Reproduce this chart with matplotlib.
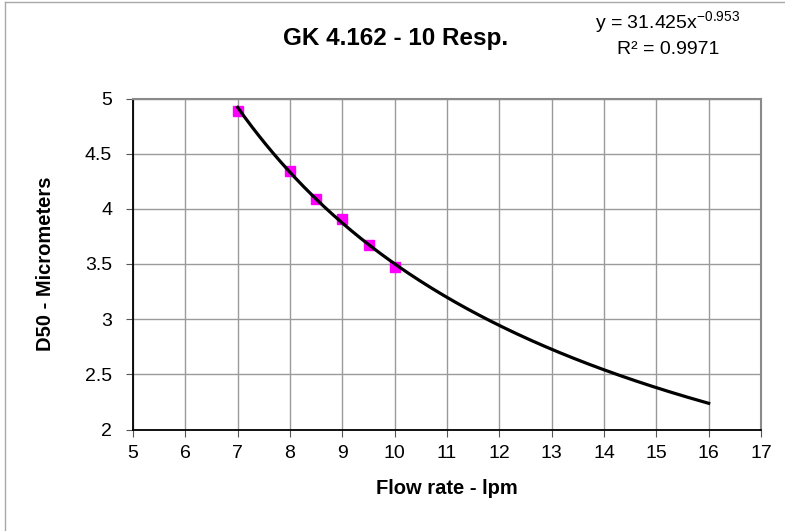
import matplotlib.pyplot as plt
from matplotlib.lines import Line2D
import numpy as np

plt.rcParams["font.family"] = ["Liberation Sans", "DejaVu Sans"]

# measured points
flow = [7, 8, 8.5, 9, 9.5, 10]
d50 = [4.89, 4.34, 4.09, 3.91, 3.67, 3.47]

# power trendline y = a * x^b, as printed on the chart
coef_a = 31.425
coef_b = -0.953
fit_start, fit_stop = 7, 16

x_ticks = list(range(5, 18))
y_ticks = [2, 2.5, 3, 3.5, 4, 4.5, 5]
y_tick_labels = ["2", "2.5", "3", "3.5", "4", "4.5", "5"]

fig = plt.figure(figsize=(7.85, 5.31), dpi=100)
fig.patch.set_facecolor("white")

# chart-area frame (left and top edges visible in the crop)
frame_c = "#a8a8a8"
fig.lines.append(Line2D([5 / 785, 5 / 785], [0, 1 - 1.5 / 531], transform=fig.transFigure,
                        color=frame_c, lw=1))
fig.lines.append(Line2D([5 / 785, 1], [1 - 1.5 / 531, 1 - 1.5 / 531], transform=fig.transFigure,
                        color=frame_c, lw=1))

ax = fig.add_axes([133 / 785, 1 - 429.5 / 531, 628 / 785, 331 / 531])

xs = np.linspace(fit_start, fit_stop, 200)
ax.plot(xs, coef_a * xs ** coef_b, color="black", lw=2.3, zorder=3)
ax.plot(flow, d50, ls="", marker="s", ms=7, color="#ff00ff", mec="#ff00ff", zorder=2)

ax.set_xlim(5, 17)
ax.set_ylim(2, 5)
ax.set_xticks(x_ticks)
ax.set_yticks(y_ticks)
ax.set_yticklabels(y_tick_labels)
ax.grid(True, color="#9a9a9a", lw=1)
ax.set_axisbelow(True)

for side in ["top", "right"]:
    ax.spines[side].set_color("#8a8a8a")
    ax.spines[side].set_linewidth(1.5)
for side in ["left", "bottom"]:
    ax.spines[side].set_color("black")
    ax.spines[side].set_linewidth(1.3)

ax.tick_params(axis="both", labelsize=14, direction="out", length=5, color="#555555")
ax.tick_params(axis="x", pad=6)
ax.tick_params(axis="y", pad=10)

ax.set_xlabel("Flow rate - lpm", fontsize=14.5, fontweight="bold")
ax.xaxis.set_label_coords(0.5, -0.15)
ax.set_ylabel("D50 - Micrometers", fontsize=14.5, fontweight="bold", va="center")
ax.yaxis.set_label_coords(-0.14, 0.5)

fig.text(396 / 785, 1 - 45 / 531, "GK 4.162 - 10 Resp.", fontsize=17.5, fontweight="bold",
         ha="center", va="baseline")
fig.text(668 / 785, 1 - 29 / 531, r"y = 31.425x$^{\mathregular{-0.953}}$", fontsize=14,
         ha="center", va="baseline")
fig.text(668 / 785, 1 - 54 / 531, "R² = 0.9971", fontsize=14, ha="center", va="baseline")

fig.savefig("out.png", dpi=100)
